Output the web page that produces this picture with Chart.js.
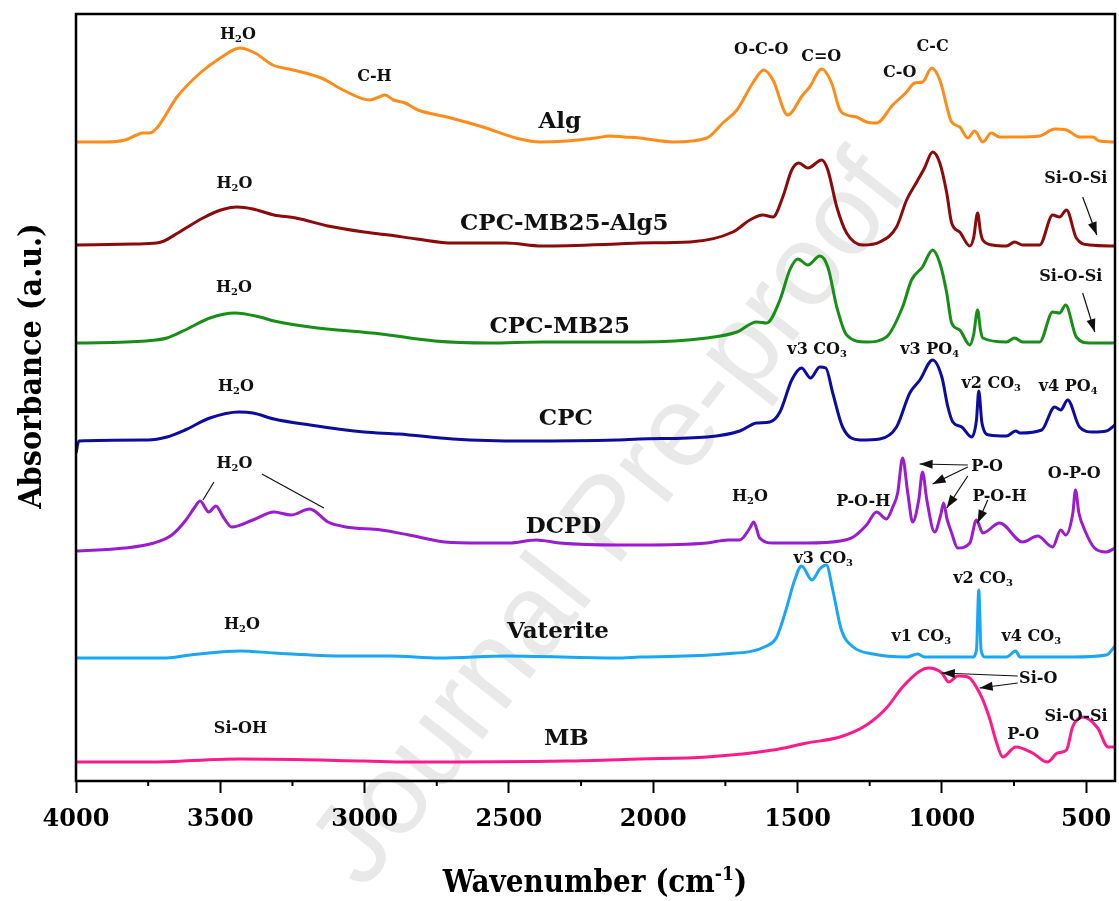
<!DOCTYPE html>
<html><head><meta charset="utf-8">
<script src="https://cdn.jsdelivr.net/npm/chart.js@4.4.1/dist/chart.umd.min.js"></script>
<style>html,body{margin:0;padding:0;background:#fff;}canvas{display:block;}</style>
</head><body>
<canvas id="c" width="1119" height="901"></canvas>
<script>
// ---------- data (wavenumber in cm-1, absorbance in stacked a.u.) ----------
const algWn = [4000,3900,3830,3790,3770,3745,3720,3650,3570,3500,3432,3380,3318,3248,3150,3075,2982,2950,2930,2900,2860,2815,2715,2590,2462,2393,2300,2200,2150,2100,2047,1932,1814,1759,1710,1655,1617,1585,1534,1482,1458,1416,1382,1353,1330,1296,1261,1226,1170,1122,1094,1067,1035,1007,966,938,910,886,858,829,800,741,661,609,568,523,477,454,400];
const algAbs = [6.39,6.39,6.41,6.46,6.48,6.48,6.53,6.84,7.08,7.23,7.33,7.28,7.16,7.11,7.03,6.91,6.81,6.84,6.86,6.81,6.78,6.71,6.64,6.54,6.42,6.39,6.40,6.43,6.45,6.44,6.43,6.39,6.43,6.58,6.71,6.98,7.11,7.01,6.66,6.86,6.94,7.12,6.98,6.71,6.66,6.64,6.59,6.58,6.76,6.89,6.98,6.99,7.13,7.01,6.59,6.54,6.43,6.50,6.39,6.48,6.44,6.44,6.45,6.52,6.51,6.44,6.44,6.40,6.39];

const alg5Wn = [4000,3800,3720,3695,3647,3560,3498,3442,3387,3314,3238,3127,3002,2916,2819,2694,2510,2386,2126,2047,1873,1724,1665,1620,1585,1551,1520,1496,1464,1416,1395,1364,1330,1274,1215,1157,1122,1087,1060,1032,1007,983,966,938,903,890,876,866,858,824,776,748,720,661,616,592,568,534,488,400];
const alg5Abs = [5.36,5.37,5.38,5.40,5.48,5.63,5.71,5.74,5.72,5.66,5.63,5.55,5.49,5.46,5.42,5.38,5.38,5.35,5.37,5.38,5.39,5.49,5.61,5.66,5.64,5.84,6.11,6.18,6.13,6.21,6.11,5.74,5.48,5.36,5.39,5.54,5.81,5.99,6.13,6.29,6.18,5.88,5.58,5.49,5.35,5.43,5.68,5.49,5.41,5.36,5.35,5.39,5.36,5.36,5.66,5.64,5.71,5.43,5.36,5.35];

const mb25Wn = [4000,3757,3685,3622,3536,3450,3363,3314,3189,2943,2757,2570,2380,2126,2047,1814,1710,1642,1607,1561,1527,1499,1464,1423,1395,1364,1330,1261,1192,1136,1105,1067,1032,1007,983,966,938,903,890,876,866,858,776,748,720,661,616,592,571,534,488,400];
const mb25Abs = [4.38,4.40,4.43,4.51,4.63,4.68,4.64,4.60,4.54,4.47,4.40,4.38,4.39,4.39,4.39,4.43,4.49,4.59,4.58,4.81,5.11,5.22,5.16,5.25,5.14,4.74,4.46,4.39,4.44,4.74,5.01,5.14,5.31,5.18,4.88,4.58,4.51,4.36,4.46,4.71,4.51,4.43,4.39,4.43,4.39,4.39,4.69,4.68,4.76,4.44,4.38,4.38];

const cpcWn = [4000,3990,3750,3685,3622,3536,3435,3387,3314,3189,3002,2881,2694,2450,2126,2047,1814,1700,1642,1596,1561,1520,1486,1455,1423,1402,1378,1344,1284,1215,1157,1111,1076,1032,1000,979,962,931,897,880,872,861,836,776,744,729,654,609,588,564,523,477,430,400];
const cpcAbs = [3.28,3.40,3.41,3.44,3.51,3.63,3.69,3.68,3.62,3.56,3.49,3.47,3.42,3.40,3.41,3.42,3.44,3.50,3.58,3.59,3.69,4.01,4.13,4.03,4.14,4.13,3.88,3.54,3.41,3.42,3.54,3.88,4.01,4.21,4.04,3.74,3.59,3.54,3.44,3.61,3.90,3.58,3.46,3.45,3.50,3.48,3.51,3.74,3.71,3.81,3.54,3.49,3.50,3.56];

const dcpdWn = [4000,3830,3730,3668,3619,3588,3570,3540,3515,3490,3460,3387,3314,3255,3190,3127,3065,2943,2846,2722,2597,2500,2405,2325,2126,2047,1814,1741,1700,1665,1652,1631,1585,1468,1353,1307,1261,1226,1192,1170,1153,1136,1118,1101,1080,1067,1052,1025,1004,994,982,966,945,903,880,858,800,720,668,616,588,571,546,537,525,505,471,430,400];
const dcpdAbs = [2.30,2.33,2.38,2.46,2.61,2.74,2.80,2.69,2.75,2.64,2.54,2.61,2.69,2.66,2.72,2.59,2.54,2.51,2.46,2.39,2.38,2.38,2.41,2.38,2.36,2.36,2.38,2.41,2.41,2.53,2.59,2.43,2.38,2.38,2.40,2.44,2.56,2.69,2.62,2.74,2.88,3.23,2.88,2.59,2.81,3.09,2.81,2.49,2.66,2.78,2.62,2.48,2.33,2.38,2.61,2.48,2.58,2.39,2.45,2.34,2.51,2.46,2.68,2.91,2.68,2.51,2.33,2.29,2.33];

const vatWn = [4000,3750,3685,3605,3432,3314,3083,2912,2740,2505,2126,2047,1759,1607,1572,1537,1510,1486,1450,1423,1400,1378,1348,1307,1238,1122,1084,1060,893,880,872,864,850,776,744,729,547,430,400];
const vatAbs = [1.23,1.23,1.23,1.26,1.30,1.28,1.25,1.25,1.23,1.25,1.23,1.24,1.27,1.35,1.44,1.74,2.01,2.15,2.01,2.12,2.16,1.91,1.51,1.34,1.27,1.24,1.27,1.24,1.24,1.31,1.91,1.31,1.24,1.24,1.30,1.24,1.24,1.26,1.35];

const mbWn = [4000,3750,3432,3000,2853,2300,2047,1814,1585,1468,1353,1261,1192,1136,1076,1047,1000,976,945,910,869,836,810,789,744,686,634,599,568,547,512,460,424,400];
const mbAbs = [0.19,0.19,0.22,0.20,0.19,0.20,0.22,0.24,0.31,0.38,0.44,0.56,0.73,0.94,1.10,1.13,1.08,0.99,1.05,1.04,0.88,0.64,0.38,0.24,0.34,0.28,0.19,0.28,0.31,0.54,0.64,0.53,0.34,0.34];

const seriesNames = ['Alg','CPC-MB25-Alg5','CPC-MB25','CPC','DCPD','Vaterite','MB'];
const seriesWn = [algWn, alg5Wn, mb25Wn, cpcWn, dcpdWn, vatWn, mbWn];
const seriesAbs = [algAbs, alg5Abs, mb25Abs, cpcAbs, dcpdAbs, vatAbs, mbAbs];
const seriesColors = ['#ff8c1a','#8b0a0a','#178f17','#0c0ca0','#9a1bd0','#19a7f5','#ff1a8c'];

const majorTicks = [4000,3500,3000,2500,2000,1500,1000,500];
const minorTicks = [3750,3250,2750,2250,1750,1250,750];

// series name labels: [wavenumber, absorbance]
const seriesLabelAt = [[2324,6.61],[2308,5.59],[2324,4.56],[2303,3.64],[2311,2.56],[2330,1.51],[2301,0.44]];

// peak assignment labels: [text, wavenumber, absorbance]
const peakLabels = [
  ['H_{2}O',3439,7.48],['C-H',2966,7.06],['O-C-O',1626,7.33],['C=O',1418,7.26],['C-O',1146,7.10],['C-C',1032,7.36],
  ['H_{2}O',3451,5.99],['Si-O-Si',536,6.04],
  ['H_{2}O',3453,4.95],['Si-O-Si',553,5.06],
  ['H_{2}O',3446,3.96],['v3 CO_{3}',1432,4.33],['v3 PO_{4}',1042,4.33],['v2 CO_{3}',829,3.99],['v4 PO_{4}',562,3.96],
  ['H_{2}O',3451,3.19],['H_{2}O',1665,2.86],['P-O-H',1272,2.81],['P-O',843,3.16],['P-O-H',800,2.86],['O-P-O',541,3.09],
  ['H_{2}O',3425,1.58],['v3 CO_{3}',1411,2.24],['v2 CO_{3}',857,2.04],['v1 CO_{3}',1071,1.46],['v4 CO_{3}',690,1.46],
  ['Si-OH',3430,0.54],['Si-O',666,1.04],['P-O',718,0.48],['Si-O-Si',535,0.66]
];
// pointer lines: [wn1, abs1, wn2, abs2, arrowhead]
const pointers = [
  [512,5.84,463,5.46,1],[512,4.88,470,4.49,1],
  [3522,2.99,3560,2.81,0],[3356,3.07,3141,2.73,0],
  [910,3.16,1077,3.17,1],[910,3.14,1032,2.97,1],[910,3.05,983,2.73,1],[841,2.81,876,2.58,1],
  [737,1.05,1000,1.08,1],[737,0.98,869,0.93,1]
];

// ---------- drawing ----------
const SERIF = '"DejaVu Serif", serif';
const COND = '"DejaVu Serif Condensed", "DejaVu Serif", serif';

function drawRich(ctx, str, x, yc, size, family, rotate) {
  const parts = []; const re = /([_^])\{([^}]*)\}|([^_^]+)/g; let m;
  while ((m = re.exec(str))) {
    if (m[3]) parts.push({t:m[3], k:0}); else parts.push({t:m[2], k:m[1]==='_'?1:2});
  }
  let w = 0;
  parts.forEach(p => { p.s = p.k ? size*0.62 : size; ctx.font = 'bold ' + p.s + 'px ' + family; p.w = ctx.measureText(p.t).width; w += p.w; });
  ctx.save();
  ctx.translate(x, yc);
  if (rotate) ctx.rotate(rotate);
  ctx.textAlign = 'left'; ctx.textBaseline = 'alphabetic';
  let cx = -w/2; const base = size*0.36;
  parts.forEach(p => {
    ctx.font = 'bold ' + p.s + 'px ' + family;
    const dy = p.k===1 ? size*0.22 : (p.k===2 ? -size*0.40 : 0);
    ctx.fillText(p.t, cx, base + dy); cx += p.w;
  });
  ctx.restore();
}

function drawPointer(ctx, x1, y1, x2, y2, head) {
  ctx.beginPath(); ctx.moveTo(x1, y1); ctx.lineTo(x2, y2); ctx.stroke();
  if (head) {
    const a = Math.atan2(y2-y1, x2-x1), L = 13, W = 4.5;
    ctx.beginPath(); ctx.moveTo(x2, y2);
    ctx.lineTo(x2 - L*Math.cos(a) + W*Math.sin(a), y2 - L*Math.sin(a) - W*Math.cos(a));
    ctx.lineTo(x2 - L*Math.cos(a) - W*Math.sin(a), y2 - L*Math.sin(a) + W*Math.cos(a));
    ctx.closePath(); ctx.fill();
  }
}

const decorPlugin = {
  id: 'decor',
  beforeDraw(chart) {
    const ctx = chart.ctx;
    ctx.save();
    ctx.fillStyle = '#fff'; ctx.fillRect(0, 0, chart.width, chart.height);
    ctx.translate(612, 522); ctx.rotate(-52*Math.PI/180);
    ctx.font = '115px "Liberation Sans", Arial, sans-serif';
    ctx.fillStyle = '#e9e9e9'; ctx.textAlign = 'center'; ctx.textBaseline = 'middle';
    ctx.fillText('Journal Pre-proof', 0, 0);
    ctx.restore();
  },
  afterDraw(chart) {
    const ctx = chart.ctx, xs = chart.scales.x, ys = chart.scales.y, a = chart.chartArea;
    ctx.save();
    ctx.strokeStyle = '#000'; ctx.fillStyle = '#000';
    // minor ticks
    ctx.lineWidth = 2;
    minorTicks.forEach(v => { const px = xs.getPixelForValue(v); ctx.beginPath(); ctx.moveTo(px, a.bottom); ctx.lineTo(px, a.bottom + 5); ctx.stroke(); });
    // frame
    ctx.lineWidth = 2.5;
    ctx.strokeRect(a.left, a.top, a.right - a.left, a.bottom - a.top);
    // labels
    ctx.fillStyle = '#111';
    seriesNames.forEach((n, i) => drawRich(ctx, n, xs.getPixelForValue(seriesLabelAt[i][0]), ys.getPixelForValue(seriesLabelAt[i][1]), 23, SERIF));
    peakLabels.forEach(p => drawRich(ctx, p[0], xs.getPixelForValue(p[1]), ys.getPixelForValue(p[2]), 16, SERIF));
    ctx.lineWidth = 1.2; ctx.strokeStyle = '#111'; ctx.fillStyle = '#111';
    pointers.forEach(p => drawPointer(ctx, xs.getPixelForValue(p[0]), ys.getPixelForValue(p[1]), xs.getPixelForValue(p[2]), ys.getPixelForValue(p[3]), p[4]));
    // axis titles
    ctx.fillStyle = '#000';
    drawRich(ctx, 'Wavenumber (cm^{-1})', 595, 881, 31, COND);
    drawRich(ctx, 'Absorbance (a.u.)', 29, 366, 32, COND, -Math.PI/2);
    ctx.restore();
  }
};

const datasets = seriesNames.map((n, i) => ({
  label: n,
  data: seriesWn[i].map((w, j) => ({x: w, y: seriesAbs[i][j]})),
  borderColor: seriesColors[i],
  borderWidth: 3,
  pointRadius: 0,
  fill: false,
  cubicInterpolationMode: 'monotone'
}));

new Chart(document.getElementById('c'), {
  type: 'line',
  data: { datasets },
  options: {
    responsive: false, animation: false, devicePixelRatio: 1,
    layout: { padding: { left: 76, top: 14, right: 4, bottom: 0 } },
    plugins: { legend: { display: false }, tooltip: { enabled: false } },
    scales: {
      x: {
        type: 'linear', reverse: true, min: 400, max: 4000,
        afterBuildTicks: s => { s.ticks = majorTicks.map(v => ({value: v})); },
        afterFit: s => { s.height = 120; s.paddingLeft = 0; s.paddingRight = 0; },
        ticks: { autoSkip: false, maxRotation: 0, padding: 12, color: '#000',
                 font: { family: SERIF, size: 24, weight: 'bold' },
                 callback: v => String(v) },
        grid: { drawOnChartArea: false, drawTicks: true, tickLength: 12, tickWidth: 2, tickColor: '#000' },
        border: { display: false }
      },
      y: { display: false, min: 0, max: 7.67 }
    }
  },
  plugins: [decorPlugin]
});
</script>
</body></html>
